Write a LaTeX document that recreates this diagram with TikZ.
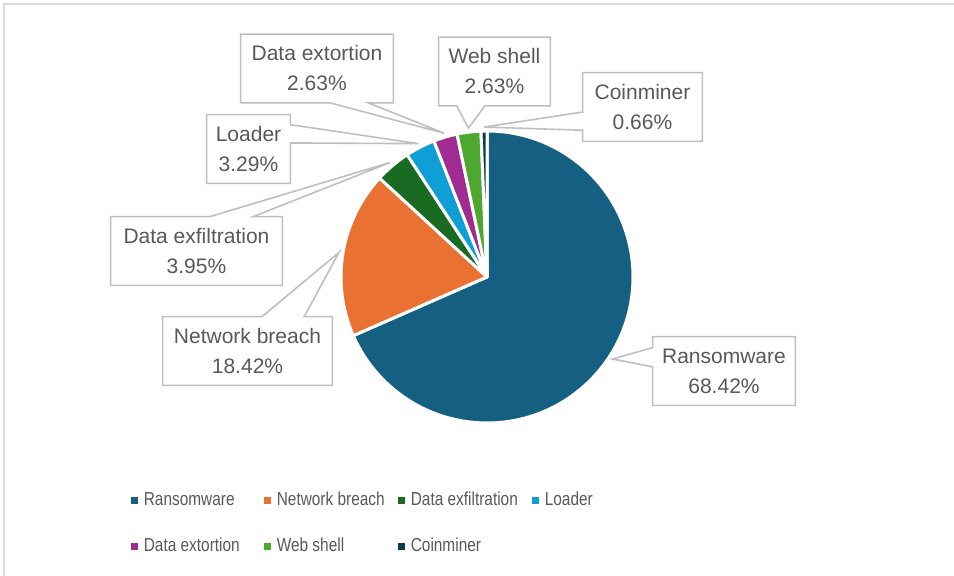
\documentclass[tikz,border=0pt]{standalone}
\usepackage{fontspec}
\setmainfont{Liberation Sans}
\newfontfamily\legendfont[FakeStretch=0.82]{Liberation Sans}
\usetikzlibrary{positioning,calc}
\definecolor{rans}{HTML}{156082}
\definecolor{netb}{HTML}{E97132}
\definecolor{dexf}{HTML}{196B24}
\definecolor{load}{HTML}{0F9ED5}
\definecolor{dext}{HTML}{A02B93}
\definecolor{webs}{HTML}{4EA72E}
\definecolor{coin}{HTML}{0E3A4F}
\definecolor{labeltext}{HTML}{595959}
\definecolor{calloutgray}{HTML}{BFBFBF}
\definecolor{framegray}{HTML}{D9D9D9}
\tikzset{
  slice/.style={
    draw=white,
    line width=1.5pt,
    line join=round,
  },
  label box/.style={
    minimum width={#1pt},
    minimum height=34pt,
    inner sep=0pt,
    align=center,
    text=labeltext,
    font=\fontsize{10.5}{15}\selectfont,
  },
  callout line/.style={
    draw=calloutgray,
    line width=0.8pt,
  },
  legend mark/.style={
    fill=#1,
    minimum size=3.5pt,
    inner sep=0pt,
  },
  legend entry/.style={
    text=labeltext,
    font=\legendfont\fontsize{9.4}{11}\selectfont,
    inner sep=0pt,
    text height=6.8pt,
    text depth=1.9pt,
  }
}

\begin{document}
\begin{tikzpicture}[x=0.5pt, y=-0.5pt]
        \useasboundingbox (0,0) rectangle (954,576);
        \fill[white] (0,0) rectangle (954,576);
        \draw[framegray, line width=0.8pt] (4,576) -- (4,4) -- (954,4);

        % pie slices, clockwise from the top
        \coordinate (c) at (487,277);
        \filldraw[slice, fill=rans] (c) -- ++(-90:146) arc[start angle=-90, end angle=156.31, radius=146] -- cycle;
        \filldraw[slice, fill=netb] (c) -- ++(156.31:146) arc[start angle=156.31, end angle=222.62, radius=146] -- cycle;
        \filldraw[slice, fill=dexf] (c) -- ++(222.62:146) arc[start angle=222.62, end angle=236.84, radius=146] -- cycle;
        \filldraw[slice, fill=load] (c) -- ++(236.84:146) arc[start angle=236.84, end angle=248.68, radius=146] -- cycle;
        \filldraw[slice, fill=dext] (c) -- ++(248.68:146) arc[start angle=248.68, end angle=258.15, radius=146] -- cycle;
        \filldraw[slice, fill=webs] (c) -- ++(258.15:146) arc[start angle=258.15, end angle=267.62, radius=146] -- cycle;
        \filldraw[slice, fill=coin] (c) -- ++(267.62:146) arc[start angle=267.62, end angle=270, radius=146] -- cycle;

        % pointer tips
        \path (c) ++(33.15:150) coordinate (t-rans);
        \path (c) ++(189.47:150) coordinate (t-netb);
        \path (c) ++(229.73:150) coordinate (t-dexf);
        \path (c) ++(242.76:150) coordinate (t-load);
        \path (c) ++(253.42:150) coordinate (t-dext);
        \path (c) ++(262.88:150) coordinate (t-webs);
        \path (c) ++(268.81:150) coordinate (t-coin);

        % data labels
        \node [label box=71] (l-rans) at (724,371) {Ransomware\\68.42\%};
        \node [label box=84.5] (l-netb) at (247.5,351) {Network breach\\18.42\%};
        \node [label box=85.5] (l-dexf) at (196.5,251) {Data exfiltration\\3.95\%};
        \node [label box=41.5] (l-load) at (248.5,149) {Loader\\3.29\%};
        \node [label box=76] (l-dext) at (317,68.5) {Data extortion\\2.63\%};
        \node [label box=55.5] (l-webs) at (494.5,71.5) {Web shell\\2.63\%};
        \node [label box=59.5] (l-coin) at (642.5,107) {Coinminer\\0.66\%};

        \draw[callout line] (l-rans.north west) -- (l-rans.north east) -- (l-rans.south east) -- (l-rans.south west)
          -- ($(l-rans.south west)!0.56!(l-rans.north west)$) -- (t-rans) -- ($(l-rans.south west)!0.84!(l-rans.north west)$) -- cycle;
        \draw[callout line] (l-netb.south west) -- (l-netb.north west)
          -- ($(l-netb.north west)!0.586!(l-netb.north east)$) -- (t-netb) -- ($(l-netb.north west)!0.834!(l-netb.north east)$)
          -- (l-netb.north east) -- (l-netb.south east) -- cycle;
        \draw[callout line] (l-dexf.south west) -- (l-dexf.north west)
          -- ($(l-dexf.north west)!0.579!(l-dexf.north east)$) -- (t-dexf) -- ($(l-dexf.north west)!0.83!(l-dexf.north east)$)
          -- (l-dexf.north east) -- (l-dexf.south east) -- cycle;
        \draw[callout line] (l-load.north west) -- (l-load.north east)
          -- ($(l-load.north east)!0.147!(l-load.south east)$) -- (t-load) -- ($(l-load.north east)!0.412!(l-load.south east)$)
          -- (l-load.south east) -- (l-load.south west) -- cycle;
        \draw[callout line] (l-dext.north west) -- (l-dext.north east) -- (l-dext.south east)
          -- ($(l-dext.south west)!0.836!(l-dext.south east)$) -- (t-dext) -- ($(l-dext.south west)!0.586!(l-dext.south east)$)
          -- (l-dext.south west) -- cycle;
        \draw[callout line] (l-webs.north west) -- (l-webs.north east) -- (l-webs.south east)
          -- ($(l-webs.south west)!0.414!(l-webs.south east)$) -- (t-webs) -- ($(l-webs.south west)!0.162!(l-webs.south east)$)
          -- (l-webs.south west) -- cycle;
        \draw[callout line] (l-coin.north west) -- (l-coin.north east) -- (l-coin.south east) -- (l-coin.south west)
          -- ($(l-coin.north west)!0.838!(l-coin.south west)$) -- (t-coin) -- ($(l-coin.north west)!0.574!(l-coin.south west)$) -- cycle;

        % legend
        \node [legend mark=rans] (m-rans) at (134.5,500.5) {};
        \node [legend entry, right=2.5pt of m-rans] (e-rans) {Ransomware};
        \node [legend mark=netb] (m-netb) at (267.5,500.5) {};
        \node [legend entry, right=2.5pt of m-netb] (e-netb) {Network breach};
        \node [legend mark=dexf] (m-dexf) at (401.5,500.5) {};
        \node [legend entry, right=2.5pt of m-dexf] (e-dexf) {Data exfiltration};
        \node [legend mark=load] (m-load) at (535.5,500.5) {};
        \node [legend entry, right=2.5pt of m-load] (e-load) {Loader};
        \node [legend mark=dext] (m-dext) at (134.5,546.5) {};
        \node [legend entry, right=2.5pt of m-dext] (e-dext) {Data extortion};
        \node [legend mark=webs] (m-webs) at (267.5,546.5) {};
        \node [legend entry, right=2.5pt of m-webs] (e-webs) {Web shell};
        \node [legend mark=coin] (m-coin) at (401.5,546.5) {};
        \node [legend entry, right=2.5pt of m-coin] (e-coin) {Coinminer};
      \end{tikzpicture}
\end{document}
